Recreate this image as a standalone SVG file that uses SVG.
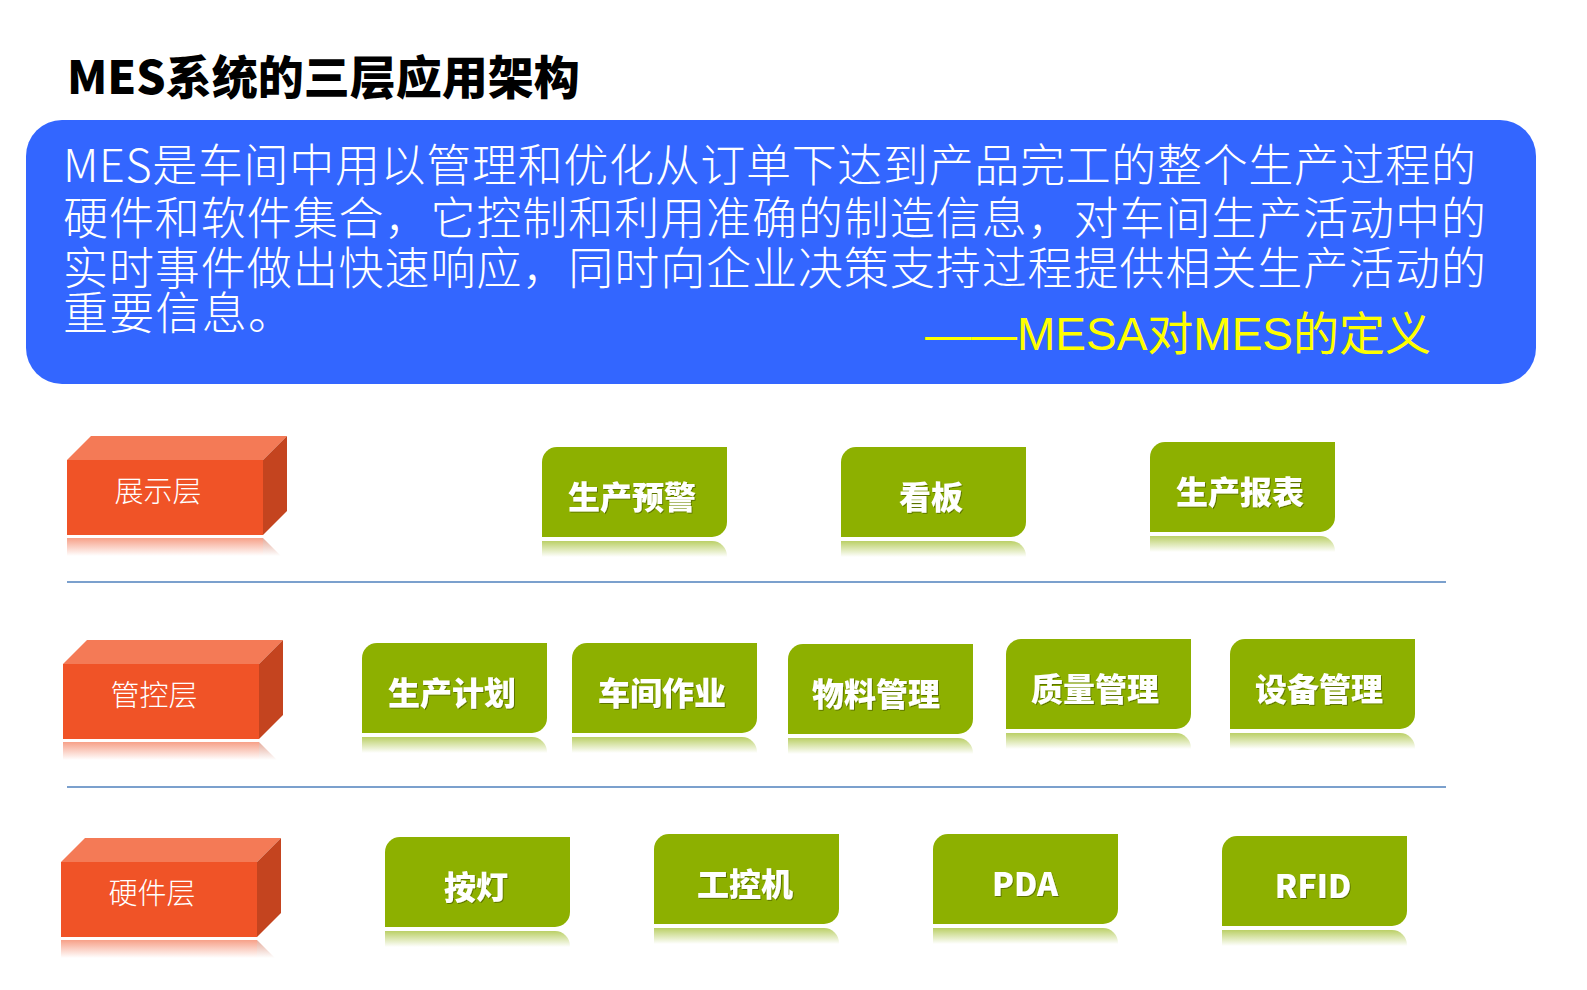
<svg xmlns="http://www.w3.org/2000/svg" xmlns:xlink="http://www.w3.org/1999/xlink" width="1587" height="990" viewBox="0 0 1587 990">
<defs>
<style>
.title{font-family:"Noto Sans CJK SC","Noto Sans",sans-serif;font-weight:900;font-size:46px;fill:#000}
.desc{font-family:"Noto Sans CJK SC","Noto Sans",sans-serif;font-weight:300;font-size:45px;fill:#fff}
.src{font-family:"Liberation Sans","Noto Sans CJK SC",sans-serif;font-size:46px;fill:#FFFF00}
.layer{font-family:"Noto Sans CJK SC",sans-serif;font-weight:300;font-size:29px;fill:#fff;text-anchor:middle}
.mod{font-family:"Noto Sans CJK SC",sans-serif;font-weight:900;font-size:32px;fill:#fff;text-anchor:middle}
.sep{stroke:#4F81BD;stroke-width:1.5;fill:none}
</style>
<linearGradient id="gRefl" x1="0" y1="0" x2="0" y2="1">
<stop offset="0" stop-color="#8DB000" stop-opacity="0.6"/>
<stop offset="1" stop-color="#8DB000" stop-opacity="0"/>
</linearGradient>
<linearGradient id="rRefl" x1="0" y1="0" x2="0" y2="1">
<stop offset="0" stop-color="#F05327" stop-opacity="0.55"/>
<stop offset="1" stop-color="#F05327" stop-opacity="0"/>
</linearGradient>
<linearGradient id="rReflSide" x1="0" y1="0" x2="0" y2="1">
<stop offset="0" stop-color="#C4441F" stop-opacity="0.45"/>
<stop offset="1" stop-color="#C4441F" stop-opacity="0"/>
</linearGradient>
<filter id="ts" x="-10%" y="-20%" width="120%" height="140%">
<feDropShadow dx="1" dy="1" stdDeviation="0.6" flood-color="#000" flood-opacity="0.35"/>
</filter>
<g id="greenbox">
<path d="M0,15 A15,15 0 0 1 15,0 H185 V75 A15,15 0 0 1 170,90 H0 Z" fill="#8DB000"/>
<path d="M0,94 H170 A15,15 0 0 1 185,109 V110 H0 Z" fill="url(#gRefl)"/>
</g>
<g id="redbox">
<polygon points="0,0 24,-24 220,-24 196,0" fill="#F47A56"/>
<polygon points="196,0 220,-24 220,51 196,75" fill="#C4441F"/>
<rect x="0" y="0" width="196" height="75" fill="#F05327"/>
<rect x="0" y="78" width="196" height="18" fill="url(#rRefl)"/>
<polygon points="196,78 214,96 196,96" fill="url(#rReflSide)"/>
</g>
</defs>
<rect width="1587" height="990" fill="#fff"/>

<g id="title">
<text class="title" x="67" y="94">MES系统的三层应用架构</text>
</g>

<g id="definition">
<rect x="26" y="120" width="1510" height="264" rx="36" ry="36" fill="#3366FF"/>
<text class="desc" x="63" y="182" textLength="1413" lengthAdjust="spacing">MES是车间中用以管理和优化从订单下达到产品完工的整个生产过程的</text>
<text class="desc" x="63" y="235" textLength="1423" lengthAdjust="spacing">硬件和软件集合，它控制和利用准确的制造信息，对车间生产活动中的</text>
<text class="desc" x="63" y="285" textLength="1423" lengthAdjust="spacing">实时事件做出快速响应，同时向企业决策支持过程提供相关生产活动的</text>
<text class="desc" x="63" y="330" textLength="230" lengthAdjust="spacing">重要信息。</text>
<text class="src" x="925" y="350">——MESA对MES的定义</text>
</g>

<g id="connectors">
<line class="sep" x1="67" y1="582" x2="1446" y2="582"/>
<line class="sep" x1="67" y1="787" x2="1446" y2="787"/>
</g>

<g id="layer-display" transform="translate(67,460)">
<use xlink:href="#redbox"/>
<text class="layer" x="91" y="42">展示层</text>
</g>
<g id="layer-control" transform="translate(63,664)">
<use xlink:href="#redbox"/>
<text class="layer" x="91" y="42">管控层</text>
</g>
<g id="layer-hardware" transform="translate(61,862)">
<use xlink:href="#redbox"/>
<text class="layer" x="91" y="42">硬件层</text>
</g>

<g id="mod-warning" transform="translate(542,447)"><use xlink:href="#greenbox"/><text class="mod" filter="url(#ts)" x="90" y="62">生产预警</text></g>
<g id="mod-kanban" transform="translate(841,447)"><use xlink:href="#greenbox"/><text class="mod" filter="url(#ts)" x="90" y="62">看板</text></g>
<g id="mod-report" transform="translate(1150,442)"><use xlink:href="#greenbox"/><text class="mod" filter="url(#ts)" x="90" y="62">生产报表</text></g>

<g id="mod-plan" transform="translate(362,643)"><use xlink:href="#greenbox"/><text class="mod" filter="url(#ts)" x="90" y="62">生产计划</text></g>
<g id="mod-workshop" transform="translate(572,643)"><use xlink:href="#greenbox"/><text class="mod" filter="url(#ts)" x="90" y="62">车间作业</text></g>
<g id="mod-material" transform="translate(788,644)"><use xlink:href="#greenbox"/><text class="mod" filter="url(#ts)" x="88" y="62">物料管理</text></g>
<g id="mod-quality" transform="translate(1006,639)"><use xlink:href="#greenbox"/><text class="mod" filter="url(#ts)" x="89" y="62">质量管理</text></g>
<g id="mod-equipment" transform="translate(1230,639)"><use xlink:href="#greenbox"/><text class="mod" filter="url(#ts)" x="89" y="62">设备管理</text></g>

<g id="hw-andon" transform="translate(385,837)"><use xlink:href="#greenbox"/><text class="mod" filter="url(#ts)" x="91" y="62">按灯</text></g>
<g id="hw-ipc" transform="translate(654,834)"><use xlink:href="#greenbox"/><text class="mod" filter="url(#ts)" x="91" y="62">工控机</text></g>
<g id="hw-pda" transform="translate(933,834)"><use xlink:href="#greenbox"/><text class="mod" filter="url(#ts)" x="92" y="62">PDA</text></g>
<g id="hw-rfid" transform="translate(1222,836)"><use xlink:href="#greenbox"/><text class="mod" filter="url(#ts)" x="91" y="62">RFID</text></g>
</svg>
